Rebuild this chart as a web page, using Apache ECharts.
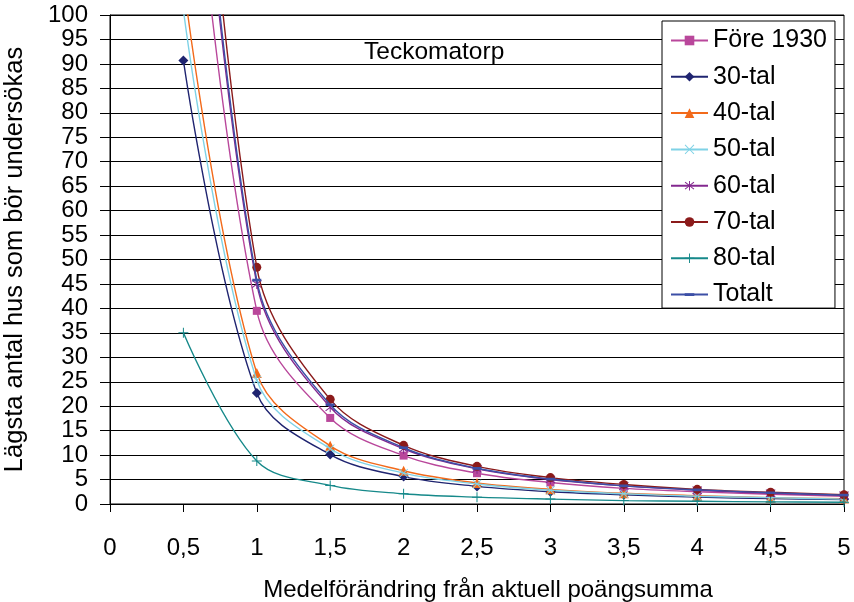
<!DOCTYPE html>
<html>
<head>
<meta charset="utf-8">
<script src="https://cdn.jsdelivr.net/npm/echarts@6/dist/echarts.min.js"></script>
<style>
  html, body { margin: 0; padding: 0; background: #fff; }
  #chart { width: 854px; height: 602px; }
</style>
</head>
<body>
<div id="chart"></div>
<script>
// x positions (medelförändring)
const xValues = [0.5, 1, 1.5, 2, 2.5, 3, 3.5, 4, 4.5, 5];

const fore1930 = [158, 39.5, 17.6, 9.9, 6.3, 4.4, 3.2, 2.5, 2.0, 1.6];
const tal30 = [90.7, 22.7, 10.1, 5.6, 3.6, 2.5, 1.9, 1.4, 1.1, 0.9];
const tal40 = [107, 26.8, 11.9, 6.8, 4.3, 3.0, 2.2, 1.7, 1.3, 1.1];
const tal50 = [101, 25.3, 11.3, 6.3, 4.1, 2.8, 2.1, 1.6, 1.3, 1.0];
const tal60 = [180, 45.0, 19.8, 11.3, 7.2, 5.0, 3.7, 2.8, 2.2, 1.8];
const tal70 = [194, 48.4, 21.4, 12.0, 7.7, 5.4, 4.0, 3.0, 2.4, 1.9];
const tal80 = [35.0, 8.8, 3.8, 2.1, 1.4, 1.0, 0.7, 0.55, 0.43, 0.35];
const totalt = [183, 45.8, 20.3, 11.5, 7.3, 5.1, 3.7, 2.9, 2.3, 1.8];

const seriesNames = ['Före 1930', '30-tal', '40-tal', '50-tal', '60-tal', '70-tal', '80-tal', 'Totalt'];
const seriesData = [fore1930, tal30, tal40, tal50, tal60, tal70, tal80, totalt];
const colors = ['#b9479b', '#1f2470', '#f26a1b', '#7fd2e6', '#83288f', '#8b1a1a', '#16898a', '#3c4fa6'];

const FONT = 'Liberation Sans, Arial, sans-serif';

const plusPath = 'path://M9,0H11V9H20V11H11V20H9V11H0V9H9Z';
const xPath = 'path://M0,1.4L1.4,0L10,8.6L18.6,0L20,1.4L11.4,10L20,18.6L18.6,20L10,11.4L1.4,20L0,18.6L8.6,10Z';
const starPath = 'path://M0,3.4L1.4,2L10,8.6L18.6,2L20,3.4L11.4,10L20,16.6L18.6,18L10,11.4L1.4,18L0,16.6L8.6,10Z M9,0H11V20H9Z';
const dashPath = 'path://M0,0L0.01,0Z M0,3.5H10V6.5H0Z M10,10L9.99,10Z';

const symbols = ['rect', 'diamond', 'triangle', xPath, starPath, 'circle', plusPath, dashPath];
const sizes = [8, 10, 10, 9, 10, 9, 10, 9];

const series = seriesNames.map((name, i) => ({
  name: name,
  type: 'line',
  smooth: 0.35,
  data: xValues.map((x, j) => [x, seriesData[i][j]]),
  symbol: symbols[i],
  symbolSize: sizes[i],
  symbolKeepAspect: true,
  showAllSymbol: true,
  clip: true,
  lineStyle: { width: 1.4, color: colors[i] },
  itemStyle: { color: colors[i] },
  emphasis: { disabled: true },
  z: 2 + i
}));

const chart = echarts.init(document.getElementById('chart'), null, { renderer: 'canvas' });
chart.setOption({
  animation: false,
  color: colors,
  grid: {
    left: 110, right: 10, top: 15, bottom: 98,
    outerBoundsMode: 'none',
    containLabel: false,
    show: true, borderColor: '#000', borderWidth: 1, backgroundColor: 'transparent'
  },
  xAxis: {
    type: 'value',
    min: 0, max: 5, interval: 0.5,
    name: 'Medelförändring från aktuell poängsumma',
    nameLocation: 'middle',
    nameGap: 74,
    nameTextStyle: { fontFamily: FONT, fontSize: 24, color: '#000', padding: [0, 0, 0, 22] },
    axisLine: { lineStyle: { color: '#000', width: 1 } },
    axisTick: { show: true, length: 8, lineStyle: { color: '#000' } },
    axisLabel: {
      margin: 32, fontFamily: FONT, fontSize: 24, color: '#000',
      formatter: v => String(v).replace('.', ',')
    },
    splitLine: { show: false }
  },
  yAxis: {
    type: 'value',
    min: 0, max: 100, interval: 5,
    name: 'Lägsta antal hus som bör undersökas',
    nameLocation: 'middle',
    nameGap: 82,
    nameRotate: 90,
    nameTextStyle: { fontFamily: FONT, fontSize: 25.5, color: '#000' },
    axisLine: { show: true, lineStyle: { color: '#000', width: 1 } },
    axisTick: { show: true, length: 10, lineStyle: { color: '#000' } },
    axisLabel: { margin: 22, fontFamily: FONT, fontSize: 24, color: '#000' },
    splitLine: { show: true, lineStyle: { color: '#000', width: 1 } }
  },
  legend: {
    orient: 'vertical',
    left: 662, top: 21,
    padding: [7, 8, 1, 8],
    backgroundColor: '#fff',
    borderColor: '#000',
    borderWidth: 1,
    itemWidth: 37,
    itemHeight: 12,
    itemGap: 11.3,
    selectedMode: false,
    textStyle: { fontFamily: FONT, fontSize: 25, color: '#000', lineHeight: 25 },
    data: seriesNames
  },
  graphic: [{
    type: 'text',
    left: 364, top: 40,
    style: { text: 'Teckomatorp', font: '24.5px ' + FONT, fill: '#000' },
    z: 100
  }],
  series: series
});
</script>
</body>
</html>
